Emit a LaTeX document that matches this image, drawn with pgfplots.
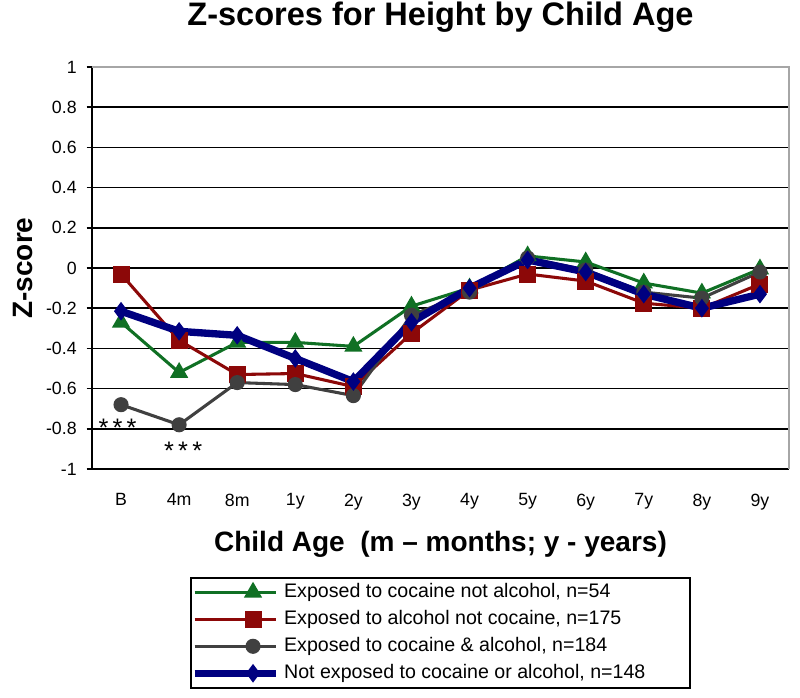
\documentclass[border=0pt]{standalone}
\usepackage{pgfplots}
\pgfplotsset{compat=1.18}
\usepackage{fontspec}
\setmainfont{Liberation Sans}
\definecolor{cgreen}{RGB}{16,112,36}
\definecolor{cred}{RGB}{140,8,8}
\definecolor{cgray}{RGB}{64,64,64}
\definecolor{cblue}{RGB}{0,0,128}
\begin{document}
\begin{tikzpicture}
\begin{axis}[
  scale only axis,
  width=522.75pt, height=301.5pt,
  xmin=-0.5, xmax=11.5,
  ymin=-1, ymax=1,
  xtick={0,...,11},
  xticklabels={B,4m,8m,1y,2y,3y,4y,5y,6y,7y,8y,9y},
  ytick={-1,-0.8,-0.6,-0.4,-0.2,0,0.2,0.4,0.6,0.8,1},
  yticklabels={-1,-0.8,-0.6,-0.4,-0.2,0,0.2,0.4,0.6,0.8,1},
  axis x line*=bottom, axis y line*=left,
  axis line style={black, line width=1.5pt},
  xtick style={draw=none},
  ytick style={black, line width=1.2pt},
  tick align=outside,
  major tick length=4pt,
  ymajorgrids,
  grid style={black, line width=1.2pt},
  ticklabel style={font=\fontsize{13.3}{15}\selectfont},
  yticklabel style={xshift=-4pt},
  xticklabel style={yshift=-11pt},
  /pgf/number format/assume math mode=true,
  title={Z-scores for Height by Child Age},
  title style={font=\fontsize{24.4}{29}\bfseries, at={(axis description cs:0.5,1)}, anchor=base, yshift=25.5pt},
  xlabel={Child Age\ \ (m – months; y - years)},
  xlabel style={font=\fontsize{21}{25}\bfseries, at={(axis description cs:0.5,0)}, anchor=base, yshift=-62pt},
  ylabel={Z-score},
  ylabel style={font=\fontsize{21}{25}\bfseries, at={(axis description cs:-0.0847,0.5)}, anchor=base},
  legend image code/.code={\path (-27pt,0pt) -- (0pt,0pt); \draw[mark repeat=2,mark phase=2,#1] plot coordinates {(0pt,0pt) (16.9pt,0pt) (33.75pt,0pt)};},
  legend style={at={(axis description cs:0.5,-0.2687)}, anchor=north, draw=black, line width=1.2pt,
    font=\fontsize{14.7}{17}\selectfont, inner xsep=0pt, inner ysep=3.6pt, row sep=5.75pt,
    nodes={inner sep=0pt, text height=11pt, text depth=3.5pt},
    /tikz/every odd column/.append style={column sep=3.75pt}},
  legend cell align=left,
  clip=false,
  after end axis/.code={\draw[gray!70, line width=1.2pt] (rel axis cs:0,1) -| (rel axis cs:1,0);},
]
\addplot[cgreen, line width=2.3pt, mark=triangle*, mark size=5.6pt, mark options={solid}] coordinates {
(0,-0.27) (1,-0.52) (2,-0.37) (3,-0.37) (4,-0.39) (5,-0.19) (6,-0.10) (7,0.06) (8,0.03) (9,-0.075) (10,-0.125) (11,-0.005)};
\addlegendentry{\makebox[304.5pt][l]{Exposed to cocaine not alcohol, n=54}}
\addplot[cred, line width=2.3pt, mark=square*, mark size=5.2pt, mark options={solid}] coordinates {
(0,-0.03) (1,-0.36) (2,-0.53) (3,-0.525) (4,-0.59) (5,-0.325) (6,-0.11) (7,-0.03) (8,-0.065) (9,-0.175) (10,-0.20) (11,-0.08)};
\addlegendentry{Exposed to alcohol not cocaine, n=175}
\addplot[cgray, line width=2.3pt, mark=*, mark size=4.5pt, mark options={solid}] coordinates {
(0,-0.68) (1,-0.78) (2,-0.57) (3,-0.58) (4,-0.635) (5,-0.235) (6,-0.12) (7,0.05) (8,-0.01) (9,-0.12) (10,-0.15) (11,-0.02)};
\addlegendentry{Exposed to cocaine \& alcohol, n=184}
\addplot[cblue, line width=5.5pt, mark=diamond*, mark size=6.2pt, mark options={solid, line width=1pt}] coordinates {
(0,-0.215) (1,-0.315) (2,-0.335) (3,-0.45) (4,-0.565) (5,-0.27) (6,-0.10) (7,0.04) (8,-0.02) (9,-0.13) (10,-0.20) (11,-0.13)};
\addlegendentry{Not exposed to cocaine or alcohol, n=148}
\node[font=\fontsize{19}{22}\selectfont, anchor=base, inner sep=0pt] at (axis cs:-0.06,-0.84) {*\,*\,*};
\node[font=\fontsize{19}{22}\selectfont, anchor=base, inner sep=0pt] at (axis cs:1.07,-0.953) {*\,*\,*};
\end{axis}
\pgfresetboundingbox
\path (-69pt,-171pt) rectangle (531pt,351.75pt);
\end{tikzpicture}
\end{document}
